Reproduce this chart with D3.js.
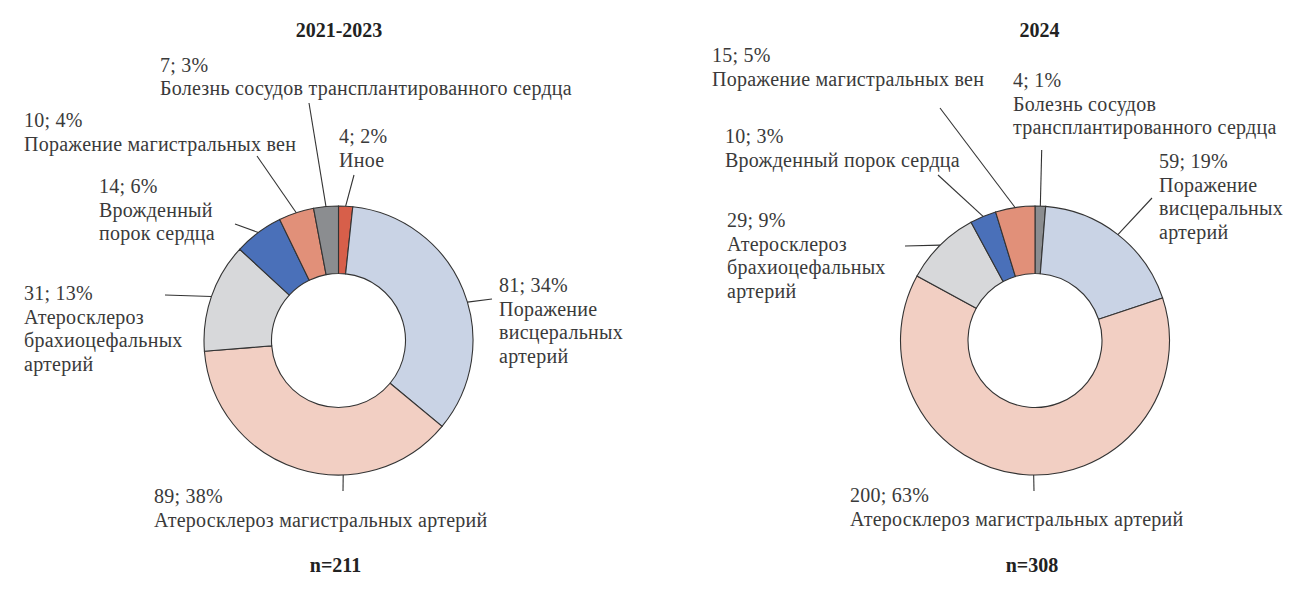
<!DOCTYPE html>
<html lang="ru">
	<head>
		<meta charset="utf-8">
		<title>D3: two donut charts</title>
		<script src="https://cdn.jsdelivr.net/npm/d3@7"></script>
		<style type="text/css">
			body { margin: 0; background: #fff; }
			text { font-family: "Liberation Serif", "Times New Roman", serif; }
		</style>
	</head>
	<body>
		<script type="text/javascript">

			//Left chart (2021-2023), slices clockwise from 12 o'clock
			let cats1 = ["Иное", "Поражение висцеральных артерий", "Атеросклероз магистральных артерий", "Атеросклероз брахиоцефальных артерий", "Врожденный порок сердца", "Поражение магистральных вен", "Болезнь сосудов трансплантированного сердца"];
			let vals1 = [4, 81, 89, 31, 14, 10, 7];

			//Right chart (2024)
			let cats2 = ["Болезнь сосудов трансплантированного сердца", "Поражение висцеральных артерий", "Атеросклероз магистральных артерий", "Атеросклероз брахиоцефальных артерий", "Врожденный порок сердца", "Поражение магистральных вен"];
			let vals2 = [4, 59, 200, 29, 10, 15];

			let titles = ["2021-2023", "2024"];
			let totals = ["n=211", "n=308"];

			//Width and height
			let w = 1312;
			let h = 591;

			//Slice colours per category
			let color = d3.scaleOrdinal()
				.domain(["Поражение висцеральных артерий", "Атеросклероз магистральных артерий", "Атеросклероз брахиоцефальных артерий", "Врожденный порок сердца", "Поражение магистральных вен", "Болезнь сосудов трансплантированного сердца", "Иное"])
				.range(["#c9d3e5", "#f2cfc3", "#d7d8da", "#4a70b9", "#e19079", "#8b8d90", "#d75f4a"]);

			//Label layout: words per line, text position, leader end, where the leader touches the slice
			let layout1 = [
				{ split: [1], x: 339, y: 143, lx: 354, ly: 175 },
				{ split: [1, 1, 1], x: 499, y: 292, lx: 492, ly: 299, at: 0.545 },
				{ split: [3], x: 154, y: 503, lx: 343, ly: 491, at: 0.356 },
				{ split: [1, 1, 1], x: 24, y: 300, lx: 165, ly: 295 },
				{ split: [1, 2], x: 99, y: 193, lx: 235, ly: 224 },
				{ split: [3], x: 24, y: 127, lx: 257, ly: 156 },
				{ split: [4], x: 160, y: 71.5, lx: 309, ly: 103 }
			];
			let layout2 = [
				{ split: [2, 2], x: 1013, y: 87, lx: 1041.7, ly: 150 },
				{ split: [1, 1, 1], x: 1159, y: 168, lx: 1152, ly: 198 },
				{ split: [3], x: 850, y: 502, lx: 1034, ly: 491, at: 0.48 },
				{ split: [1, 1, 1], x: 727, y: 227, lx: 905, ly: 246 },
				{ split: [3], x: 725, y: 143, lx: 938, ly: 175 },
				{ split: [3], x: 712, y: 62, lx: 940, ly: 108 }
			];

			let charts = [
				{ cats: cats1, vals: vals1, labels: layout1, cx: 338.5, cy: 340.5, tx: 339 },
				{ cats: cats2, vals: vals2, labels: layout2, cx: 1035, cy: 340.5, tx: 1039.5 }
			];

			let rOuter = 134.5;
			let rInner = 67;
			let lineH = 23.5;

			let svg = d3.select("body")
						.append("svg")
						.attr("width", w)
						.attr("height", h);

			let pie = d3.pie().sort(null).value(d => d);
			let arc = d3.arc().innerRadius(rInner).outerRadius(rOuter);

			charts.forEach((c, ci) => {
				let sum = d3.sum(c.vals);
				let slices = pie(c.vals);

				let g = svg.append("g")
					.attr("transform", `translate(${c.cx},${c.cy})`);

				//Slices
				g.selectAll("path")
					.data(slices)
					.enter()
					.append("path")
					.attr("d", arc)
					.attr("fill", (d, i) => color(c.cats[i]))
					.attr("stroke", "#333")
					.attr("stroke-width", 1.1);

				//Leader lines
				slices.forEach((d, i) => {
					let lab = c.labels[i];
					let f = lab.at === undefined ? 0.5 : lab.at;
					let a = d.startAngle + (d.endAngle - d.startAngle) * f;
					svg.append("line")
						.attr("x1", c.cx + rOuter * Math.sin(a))
						.attr("y1", c.cy - rOuter * Math.cos(a))
						.attr("x2", lab.lx)
						.attr("y2", lab.ly)
						.attr("stroke", "#333")
						.attr("stroke-width", 1.1);

					//Label text: value; percent, then the wrapped category name
					let words = c.cats[i].split(" ");
					let lines = [c.vals[i] + "; " + Math.round(c.vals[i] / sum * 100) + "%"];
					let k = 0;
					lab.split.forEach(n => {
						lines.push(words.slice(k, k + n).join(" "));
						k += n;
					});
					let t = svg.append("text")
						.attr("x", lab.x)
						.attr("y", lab.y)
						.attr("fill", "#3a3a3a")
						.style("font-size", "20px")
						.style("letter-spacing", "0.25px");
					lines.forEach((s, li) => {
						t.append("tspan")
							.attr("x", lab.x)
							.attr("y", lab.y + li * lineH)
							.text(s);
					});
				});

				//Title and total
				svg.append("text")
					.attr("x", c.tx)
					.attr("y", 36.7)
					.attr("text-anchor", "middle")
					.attr("fill", "#222")
					.style("font-size", "20px")
					.style("font-weight", "bold")
					.text(titles[ci]);
				svg.append("text")
					.attr("x", c.cx - 3)
					.attr("y", 572)
					.attr("text-anchor", "middle")
					.attr("fill", "#222")
					.style("font-size", "20px")
					.style("font-weight", "bold")
					.text(totals[ci]);
			});

		</script>
	</body>
</html>
